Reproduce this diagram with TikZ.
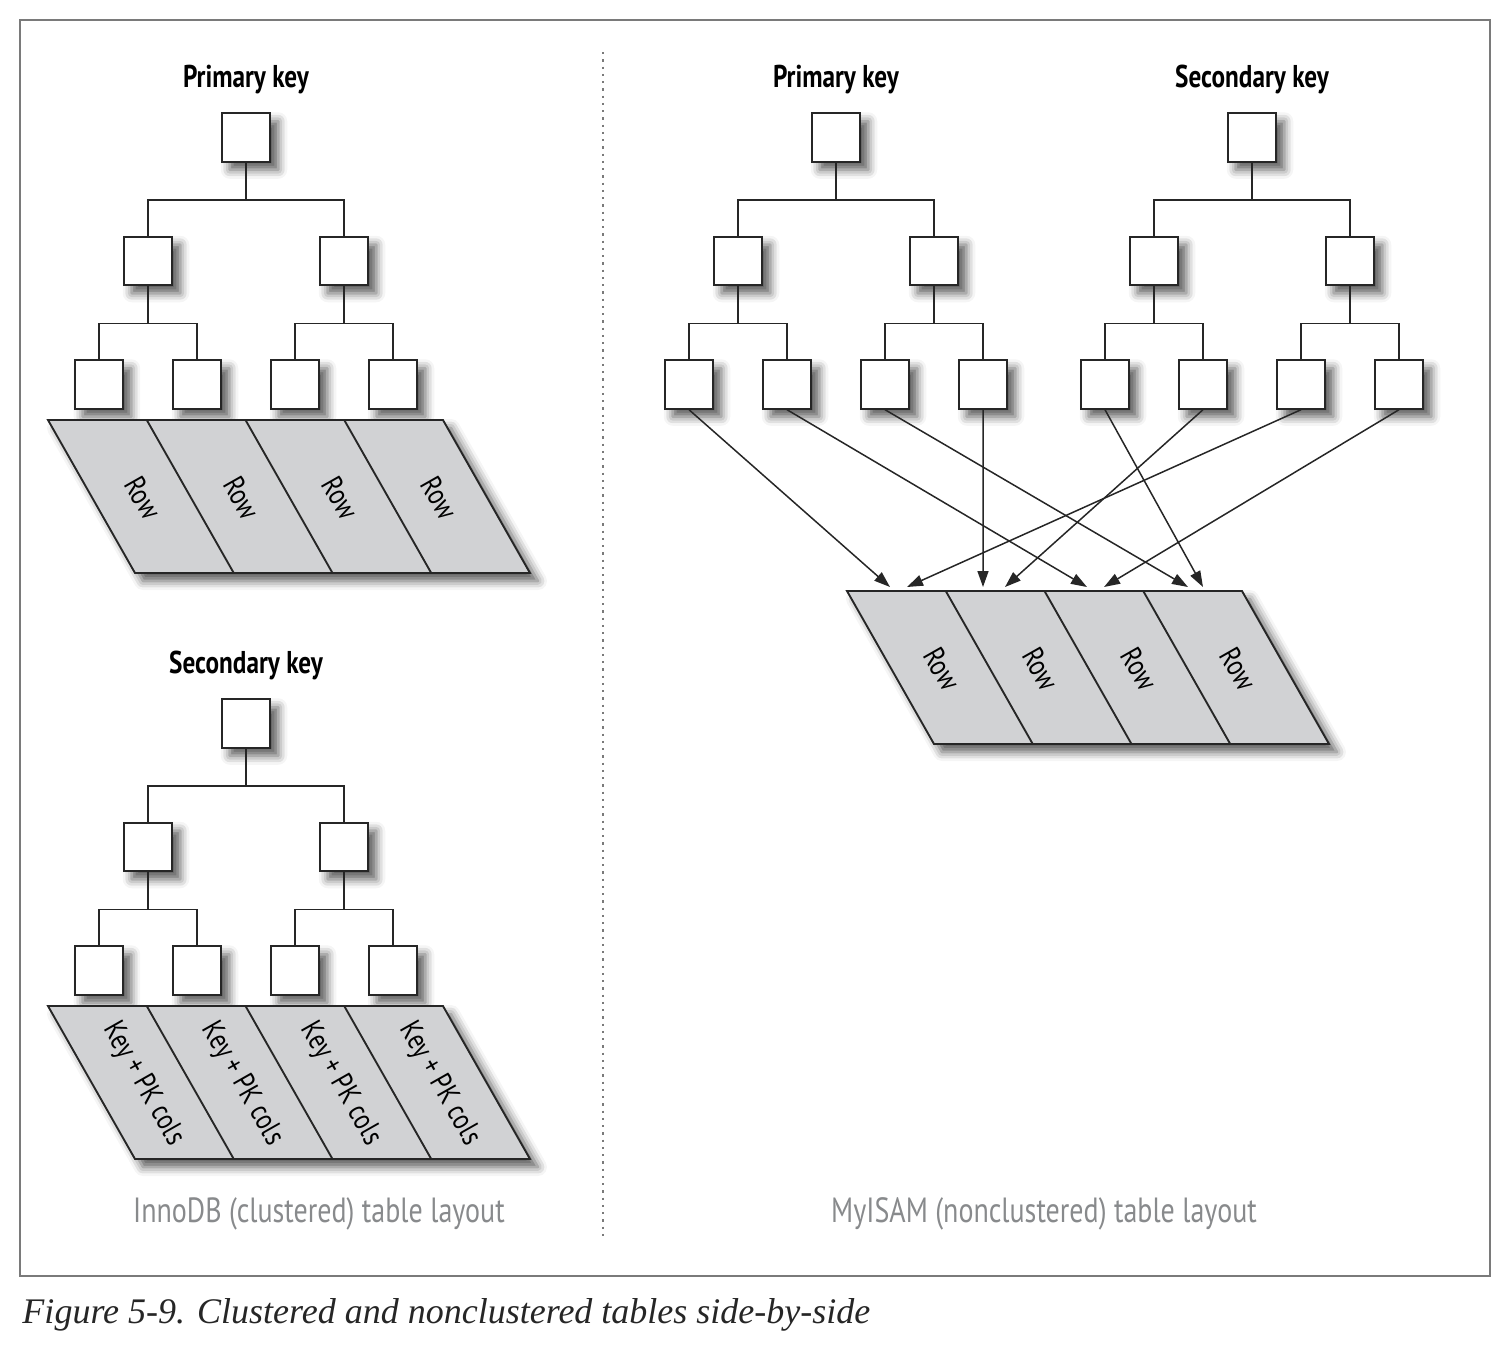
\documentclass[tikz,border=0pt]{standalone}
\usepackage{fontspec}
\setmainfont{Liberation Serif}
\newfontfamily\keyfont[FakeStretch=0.8]{PT Sans}
\usepackage{xcolor}
\usetikzlibrary{positioning,arrows.meta,shadows.blur}
\definecolor{cellgray}{HTML}{D1D2D4}
\definecolor{capgray}{HTML}{888A8C}
\definecolor{framegray}{HTML}{7A7A7A}
\definecolor{inkgray}{HTML}{262626}

\begin{document}
\begin{tikzpicture}[x=0.4pt,y=-0.4pt,->,>={Triangle[length=6.4pt,width=4.4pt]},node distance=49.4pt and 39.2pt,on grid]
  \tikzstyle{shade}=[blur shadow={shadow xshift=3.2pt,shadow yshift=-3.2pt,shadow blur radius=3.6pt,shadow opacity=65}]
  \tikzstyle{box}=[draw=inkgray,fill=white,line width=0.75pt,minimum size=19.4pt,inner sep=0pt,shade]
  \tikzstyle{branch}=[-,draw=inkgray,line width=0.6pt,to path={(\tikztostart.south) -- ++(0,37.5) -| (\tikztotarget.north)}]
  \tikzstyle{keytitle}=[font=\keyfont\bfseries\fontsize{12.6}{14}\selectfont,text=black]
  \tikzstyle{celltext}=[font=\keyfont\fontsize{12}{13}\selectfont,text=black,rotate=-60.4]
  \tikzstyle{table}=[-,draw=inkgray,line width=0.75pt,fill=cellgray,shade]
  \tikzstyle{pointer}=[->,draw=inkgray,line width=0.6pt]
  \tikzstyle{layout}=[font=\keyfont\fontsize{14}{16}\selectfont,text=capgray]
  \useasboundingbox (0,0) rectangle (1508,1356);
  \draw[-,framegray,line width=0.6pt] (20,20) rectangle (1490,1276);
  \draw[-,framegray,line width=0.9pt,dotted] (603,52) -- (603,1240);
  % the four trees
  \foreach \t/\cx/\cy/\ttl in {pa/246/137.5/Primary key,sa/246/723.5/Secondary key,pb/836/137.5/Primary key,sb/1252/137.5/Secondary key}{
    \node[box] (\t) at (\cx,\cy) {};
    \node[keytitle] (\t-title) [above=23.2pt of \t] {\ttl};
    \node[box] (\t1) [below left=of \t] {};
    \node[box] (\t2) [below right=of \t] {};
    \node[box] (\t11) [below left=49.4pt and 19.6pt of \t1] {};
    \node[box] (\t12) [below right=49.4pt and 19.6pt of \t1] {};
    \node[box] (\t21) [below left=49.4pt and 19.6pt of \t2] {};
    \node[box] (\t22) [below right=49.4pt and 19.6pt of \t2] {};
    \path (\t) edge[branch] (\t1) edge[branch] (\t2)
          (\t1) edge[branch] (\t11) edge[branch] (\t12)
          (\t2) edge[branch] (\t21) edge[branch] (\t22);
  }
  % the row tables
  \foreach \r/\x/\y/\txt in {ra/48/420/Row,rs/48/1006/Key + PK cols,rb/847/591/Row}{
    \draw[table] (\x,\y) -- ++(395,0) -- ++(87,153) -- ++(-395,0) -- cycle;
    \foreach \i in {1,2,3}
      \draw[-,draw=inkgray,line width=0.75pt] (\x+98.75*\i,\y) -- ++(87,153);
    \foreach \i in {1,...,4}
      \node[celltext] (\r\i) at (\x+98.75*\i-47+43.5,\y+78) {\txt};
  }
  % where the pointers land on the MyISAM rows
  \foreach \n/\x in {in1a/890,in1b/907,in2a/983,in2b/1005,in3a/1087,in3b/1104,in4a/1188,in4b/1203}
    \coordinate (\n) at (\x,587);
  \draw[pointer] (pb11.south) -- (in1a);
  \draw[pointer] (pb12.south) -- (in3a);
  \draw[pointer] (pb21.south) -- (in4a);
  \draw[pointer] (pb22.south) -- (in2a);
  \draw[pointer] (sb11.south) -- (in4b);
  \draw[pointer] (sb12.south) -- (in2b);
  \draw[pointer] (sb21.south) -- (in1b);
  \draw[pointer] (sb22.south) -- (in3b);
  \node[layout] (innodb) at (319,1214) {InnoDB (clustered) table layout};
  \node[layout] (myisam) at (1044,1214) {MyISAM (nonclustered) table layout};
  \node[anchor=west,font=\itshape\fontsize{14.4}{16}\selectfont,text=inkgray,inner sep=0pt] (caption) at (22,1315) {Figure 5-9. Clustered and nonclustered tables side-by-side};
\end{tikzpicture}
\end{document}
